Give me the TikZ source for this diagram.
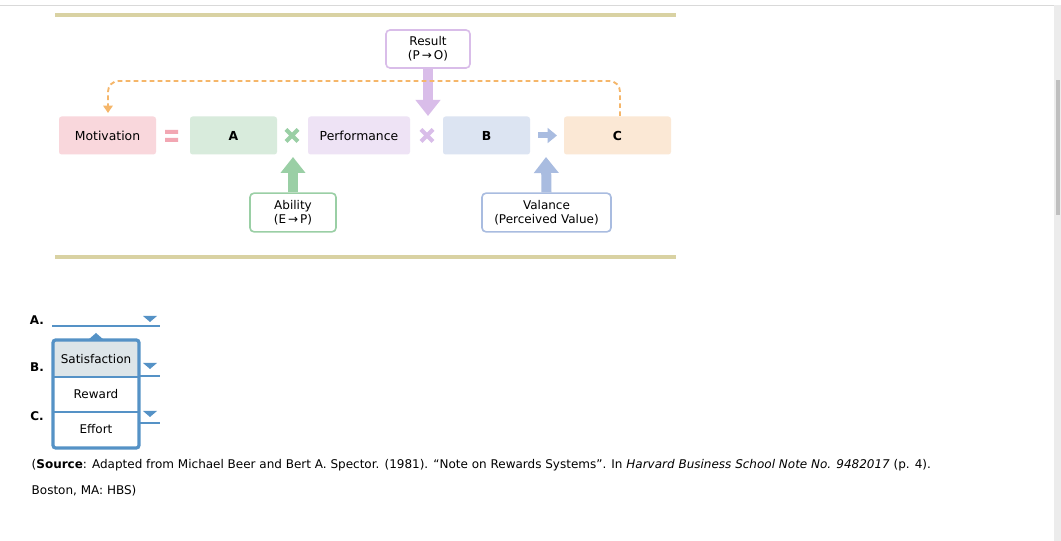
\documentclass[tikz,border=0pt]{standalone}
\usepackage{fontspec}
\setmainfont{DejaVu Sans}
\usetikzlibrary{arrows.meta}
\definecolor{tan}{HTML}{D9D2A3}
\definecolor{pk}{HTML}{F9D7DC}\definecolor{pkd}{HTML}{F2A7B3}
\definecolor{gr}{HTML}{D8EBDC}\definecolor{grd}{HTML}{9ACFA5}
\definecolor{pu}{HTML}{EEE3F5}\definecolor{pud}{HTML}{D9BDE9}
\definecolor{bl}{HTML}{DCE4F2}\definecolor{bld}{HTML}{A9BCE0}
\definecolor{or}{HTML}{FBE8D5}\definecolor{ord}{HTML}{F5B66A}
\definecolor{dd}{HTML}{5592C6}\definecolor{sel}{HTML}{DDE5E8}
\begin{document}
\begin{tikzpicture}[x=0.75pt,y=-0.75pt,
 box/.style={draw=none,rounded corners=2pt,minimum height=28.5pt,inner sep=0pt,font=\fontsize{9.3}{10}\selectfont},
 bbox/.style={box,font=\bfseries\fontsize{9.3}{10}\selectfont},
 lbl/.style={draw,line width=1.2pt,fill=white,rounded corners=3pt,inner sep=0pt,align=center,font=\fontsize{9}{10.5}\selectfont},
 fat/.style={line width=7.5pt,-{Triangle[width=18pt,length=12pt]}},
 xs/.style={line width=3pt},
 dl/.style={draw=dd,line width=1.3pt},
 tri/.style={fill=dd,draw=none},
 ft/.style={font=\fontsize{9}{10}\selectfont},
 txt/.style={ft,anchor=west}]
\useasboundingbox (0,0) rectangle (1061,541);
\fill[white] (0,0) rectangle (1061,541);
\draw[gray!30] (0,5) -- (1061,5);
\fill[gray!15] (1054,5) rectangle (1061,541);
\fill[gray!50] (1056,80) rectangle (1060,215);
\draw[tan,line width=2.6pt] (55,15) -- (676,15) (55,257) -- (676,257);
% main boxes
\node[box,fill=pk,minimum width=72.75pt] (mot) at (107.5,135.5) {Motivation};
\node[bbox,fill=gr,minimum width=65.25pt] (a) at (233.5,135.5) {A};
\node[box,fill=pu,minimum width=76.5pt] (perf) at (359,135.5) {Performance};
\node[bbox,fill=bl,minimum width=65.25pt] (b) at (486.5,135.5) {B};
\node[bbox,fill=or,minimum width=80.25pt] (c) at (617.5,135.5) {C};
\fill[pkd] (165,130) rectangle (178,134) (165,138) rectangle (178,142);
\draw[grd,xs] (286,129.5) -- (298,141.5) (286,141.5) -- (298,129.5);
\draw[pud,xs] (421,129.5) -- (433,141.5) (421,141.5) -- (433,129.5);
\coordinate (s1) at (538,135.5); \coordinate (s2) at (557,135.5);
\draw[bld,line width=4.5pt,-{Triangle[width=11pt,length=7pt]}] (s1) -- (s2);
% label boxes
\node[lbl,draw=pud,minimum width=63pt,minimum height=28.5pt] (res) at (428,49) {Result\\(P\,→\,O)};
\node[lbl,draw=grd,minimum width=64.5pt,minimum height=29pt] (abil) at (293,212.5) {Ability\\(E\,→\,P)};
\node[lbl,draw=bld,minimum width=96.75pt,minimum height=29pt] (val) at (546.5,212.5) {Valance\\(Perceived Value)};
\coordinate (rt) at (428,116);
\coordinate (at) at (293,157); \coordinate (vt) at (546,157);
\draw[fat,pud] (res.south) -- (rt);
\draw[fat,grd] (abil.north) -- (at);
\draw[fat,bld] (val.north) -- (vt);
% dashed feedback
\coordinate (ct) at (620,116);
\coordinate (mt) at (108,113);
\draw[ord,line width=1.4pt,dash pattern=on 3.5pt off 2.5pt,rounded corners=8pt,-{Triangle[width=7pt,length=5.5pt]}] (ct) -- (620,81) -- (108,81) -- (mt);
% question area
\node[font=\bfseries\fontsize{9}{10}\selectfont] (la) at (37,320) {A.};
\node[font=\bfseries\fontsize{9}{10}\selectfont] (lb) at (37,367) {B.};
\node[font=\bfseries\fontsize{9}{10}\selectfont] (lc) at (37,416) {C.};
\draw[dl] (52,326) -- (160,326);
\draw[dl] (139,376) -- (160,376);
\draw[dl] (139,423) -- (160,423);
\fill[tri] (143,316) -- (157,316) -- (150,322) -- cycle;
\fill[tri] (143,363) -- (157,363) -- (150,369) -- cycle;
\fill[tri] (143,411) -- (157,411) -- (150,417) -- cycle;
\fill[tri] (88,340) -- (96,333) -- (104,340) -- cycle;
\fill[sel] (54,341) rectangle (138,377);
\draw[dd,line width=0.8pt] (54,377) -- (138,377) (54,412) -- (138,412);
\draw[dd,line width=2.4pt,rounded corners=2pt] (53,340) rectangle (139,448);
\node[ft] (o1) at (96,359) {Satisfaction};
\node[ft] (o2) at (96,394.5) {Reward};
\node[ft] (o3) at (96,429.5) {Effort};
\node[txt] (src1) at (27,465) {(\textbf{Source}: Adapted from Michael Beer and Bert A. Spector. (1981). “Note on Rewards Systems”. In \textit{Harvard Business School Note No. 9482017} (p. 4).};
\node[txt] (src2) at (27,491) {Boston, MA: HBS)};
\end{tikzpicture}
\end{document}
